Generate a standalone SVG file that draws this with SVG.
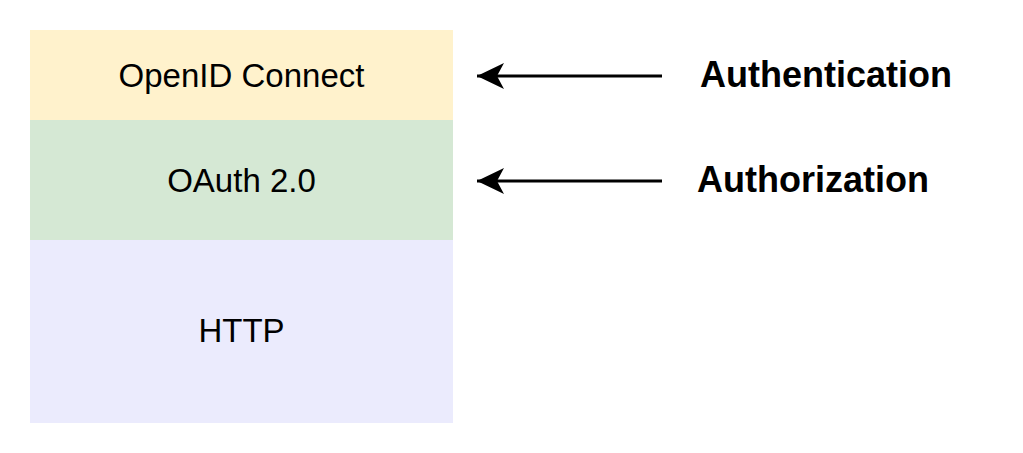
<svg xmlns="http://www.w3.org/2000/svg" width="1023" height="453" viewBox="0 0 1023 453">
<style>
.lbl{font-family:"Liberation Sans",Arial,sans-serif;font-size:33px;fill:#000;text-anchor:middle}
.side{font-family:"Liberation Sans",Arial,sans-serif;font-size:36px;font-weight:bold;fill:#000}
.conn{stroke:#000;stroke-width:3;fill:none}
</style>
<defs>
<marker id="ah" markerUnits="userSpaceOnUse" markerWidth="30" markerHeight="30" refX="27" refY="14" orient="auto">
<path d="M27,14 L0,1 L7,14 L0,27 Z" fill="#000"/>
</marker>
</defs>
<rect width="1023" height="453" fill="#fff"/>
<g id="openid">
<rect x="30" y="30" width="423" height="90" fill="#fff2cc"/>
<text class="lbl" x="241.5" y="87">OpenID Connect</text>
</g>
<g id="oauth">
<rect x="30" y="120" width="423" height="120" fill="#d5e8d4"/>
<text class="lbl" x="241.5" y="192">OAuth 2.0</text>
</g>
<g id="http">
<rect x="30" y="240" width="423" height="183" fill="#ebebfd"/>
<text class="lbl" x="241.5" y="342">HTTP</text>
</g>
<g id="connectors">
<line class="conn" x1="662" y1="76" x2="477" y2="76" marker-end="url(#ah)"/>
<line class="conn" x1="662" y1="181" x2="477" y2="181" marker-end="url(#ah)"/>
</g>
<g id="authn-label">
<text class="side" x="700" y="87">Authentication</text>
</g>
<g id="authz-label">
<text class="side" x="697" y="192">Authorization</text>
</g>
</svg>
